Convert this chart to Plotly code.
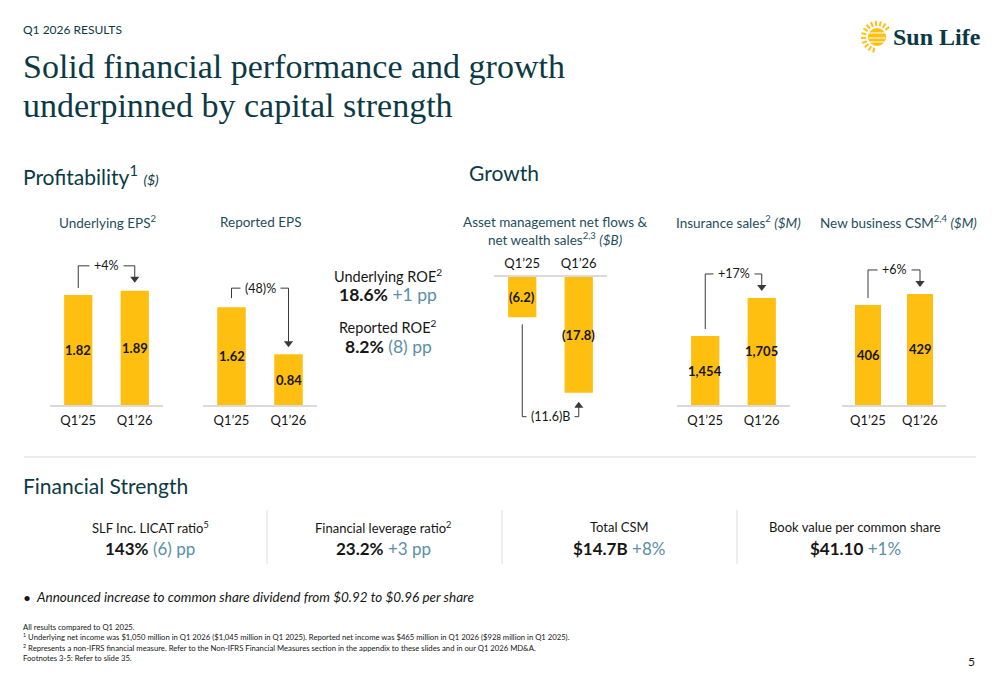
import math
import plotly.graph_objects as go

W, H = 1000, 685

# ---------------- data ----------------
QUARTERS = ["Q1’25", "Q1’26"]
UNDERLYING_EPS = [1.82, 1.89]
REPORTED_EPS = [1.62, 0.84]
ASSET_NET_FLOWS = [-6.2, -17.8]
INSURANCE_SALES = [1454, 1705]
NEW_BUSINESS_CSM = [406, 429]
CHANGE_LABELS = ["+4%", "(48)%", "(11.6)B", "+17%", "+6%"]
CHART_TITLES = [
    "Underlying EPS<sup>2</sup>",
    "Reported EPS",
    "Asset management net flows &<br>net wealth sales<sup>2,3</sup> <i>($B)</i>",
    "Insurance sales<sup>2</sup> <i>($M)</i>",
    "New business CSM<sup>2,4</sup> <i>($M)</i>",
]
ROE_LABELS = ["Underlying ROE<sup>2</sup>", "Reported ROE<sup>2</sup>"]
ROE_VALUES = ["18.6%", "8.2%"]
ROE_CHANGES = ["+1 pp", "(8) pp"]
FS_LABELS = ["SLF Inc. LICAT ratio<sup>5</sup>", "Financial leverage ratio<sup>2</sup>",
             "Total CSM", "Book value per common share"]
FS_VALUES = ["143%", "23.2%", "$14.7B", "$41.10"]
FS_CHANGES = ["(6) pp", "+3 pp", "+8%", "+1%"]
FOOTNOTES = [
    "All results compared to Q1 2025.",
    "<sup>1</sup> Underlying net income was $1,050 million in Q1 2026 ($1,045 million in Q1 2025). Reported net income was $465 million in Q1 2026 ($928 million in Q1 2025).",
    "<sup>2</sup> Represents a non-IFRS financial measure. Refer to the Non-IFRS Financial Measures section in the appendix to these slides and in our Q1 2026 MD&amp;A.",
    "Footnotes 3-5: Refer to slide 35.",
]

# ---------------- style ----------------
SANS = "Lato, Roboto, sans-serif"
SERIF = "Liberation Serif, DejaVu Serif, serif"
DARK = "#0B3A45"
TEAL = "#1D4E5B"
HILITE = "#5A8FA6"
INK = "#161616"
GOLD = "#FFBF10"
AXIS = "#DADADA"
BRACKET = "#3A3A3A"


def X(px):
    return px / W


def Y(py):
    return 1 - py / H


fig = go.Figure()
ann = []
shapes = []


def text(px, py, s, size=14, color=TEAL, xanchor="center", family=SANS, yanchor="middle", align="center"):
    if xanchor == "left":
        px -= 3
    ann.append(dict(x=X(px), y=Y(py), xref="paper", yref="paper", text=s, showarrow=False,
                    xanchor=xanchor, yanchor=yanchor, align=align,
                    font=dict(size=size, color=color, family=family)))


# header
text(24, 29, "Q1 2026 RESULTS", size=12, color=DARK, xanchor="left")
text(24, 66, "Solid financial performance and growth", size=34, color=DARK, xanchor="left", family=SERIF)
text(24, 105, "underpinned by capital strength", size=34, color=DARK, xanchor="left", family=SERIF)

# logo
text(937, 37, "<b>Sun Life</b>", size=24, color=DARK, family=SERIF)
cx, cy, r = 877, 37, 9
shapes.append(dict(type="circle", xref="paper", yref="paper", x0=X(cx - r), x1=X(cx + r),
                   y0=Y(cy + r), y1=Y(cy - r), fillcolor=GOLD, line=dict(width=0)))
for k in range(13):
    a = math.radians(40 + k * 18)
    shapes.append(dict(type="line", xref="paper", yref="paper",
                       x0=X(cx + 11 * math.cos(a)), y0=Y(cy - 11 * math.sin(a)),
                       x1=X(cx + 16 * math.cos(a)), y1=Y(cy - 16 * math.sin(a)),
                       line=dict(color=GOLD, width=2)))
for dy in (-4, 1, 5):
    shapes.append(dict(type="line", xref="paper", yref="paper", x0=X(cx - 8), x1=X(cx + 8),
                       y0=Y(cy + dy), y1=Y(cy + dy), line=dict(color="white", width=1)))

# section titles
text(24, 175, "Profitability<sup>1</sup> <span style='font-size:14px'><i>($)</i></span>", size=21, color=DARK, xanchor="left")
text(470, 172, "Growth", size=21, color=DARK, xanchor="left")
text(24, 485, "Financial Strength", size=21, color=DARK, xanchor="left")

# ---------------- charts ----------------
charts = [
    dict(vals=UNDERLYING_EPS, labels=[f"{v:.2f}" for v in UNDERLYING_EPS], x0=50, x1=163,
         ref_val=0, ref_px=405, ppu=60.4, rmin=0, rmax=2.5, side="bottom", gaps=(7, 25, 8),
         title_xy=(107, 222)),
    dict(vals=REPORTED_EPS, labels=[f"{v:.2f}" for v in REPORTED_EPS], x0=203, x1=317,
         ref_val=0, ref_px=405, ppu=60.4, rmin=0, rmax=2.5, side="bottom", gaps=(9, 19, 7),
         title_xy=(260, 222)),
    dict(vals=ASSET_NET_FLOWS, labels=[f"({abs(v):.1f})" for v in ASSET_NET_FLOWS], x0=494, x1=607,
         ref_val=0, ref_px=277, ppu=6.5, rmin=-23, rmax=0, side="top", gaps=(7, 24, 9),
         title_xy=(555, 231)),
    dict(vals=INSURANCE_SALES, labels=[f"{v:,}" for v in INSURANCE_SALES], x0=677, x1=790,
         ref_val=1000, ref_px=405, ppu=0.1518, rmin=1000, rmax=2000, side="bottom", gaps=(7, 24, 7),
         title_xy=(738, 222)),
    dict(vals=NEW_BUSINESS_CSM, labels=[f"{v:,}" for v in NEW_BUSINESS_CSM], x0=842, x1=946,
         ref_val=200, ref_px=405, ppu=0.485, rmin=200, rmax=500, side="bottom", gaps=(7, 24, 7),
         title_xy=(898, 222)),
]

layout_axes = {}
for i, c in enumerate(charts, start=1):
    sfx = "" if i == 1 else str(i)
    xa, ya = "x" + sfx, "y" + sfx
    top_px = c["ref_px"] - (c["rmax"] - c["ref_val"]) * c["ppu"]
    bot_px = c["ref_px"] + (c["ref_val"] - c["rmin"]) * c["ppu"]
    layout_axes["xaxis" + sfx] = dict(
        domain=[X(c["x0"]), X(c["x1"])], anchor=ya, range=[-0.5, 1.5],
        tickmode="array", tickvals=[0, 1], ticktext=QUARTERS, side=c["side"],
        showline=True, linecolor=AXIS, linewidth=2, showgrid=False, zeroline=False,
        ticks="", ticklabelstandoff=2, tickfont=dict(family=SANS, size=13, color=INK), fixedrange=True)
    layout_axes["yaxis" + sfx] = dict(
        domain=[Y(bot_px), Y(top_px)], anchor=xa, range=[c["rmin"], c["rmax"]],
        visible=False, fixedrange=True)
    fig.add_trace(go.Bar(x=[0, 1], y=c["vals"], width=0.5, marker=dict(color=GOLD, line=dict(width=0)),
                         xaxis=xa, yaxis=ya, hoverinfo="skip", showlegend=False))

    # value labels in the middle of the visible bar
    base = 0 if c["vals"][0] < 0 else c["rmin"]
    for j, (v, lab) in enumerate(zip(c["vals"], c["labels"])):
        ann.append(dict(x=j, y=(base + v) / 2, xref=xa, yref=ya, text=f"<b>{lab}</b>", showarrow=False,
                        font=dict(family=SANS, size=13, color=INK)))

    # bracket with change
    g1, gh, g2 = c["gaps"]
    ppu = c["ppu"]
    v1, v2 = c["vals"]
    sgn = -1 if v1 < 0 else 1
    y_start = v1 + sgn * g1 / ppu
    y_h = (max(v1, v2) if sgn > 0 else min(v1, v2)) + sgn * gh / ppu
    y_tip = v2 + sgn * g2 / ppu
    y_head = y_tip + sgn * 4 / ppu
    shapes.append(dict(type="line", xref=xa, yref=ya, x0=0, x1=0, y0=y_start, y1=y_h,
                       line=dict(color=BRACKET, width=1)))
    shapes.append(dict(type="line", xref=xa, yref=ya, x0=0, x1=1, y0=y_h, y1=y_h,
                       line=dict(color=BRACKET, width=1)))
    shapes.append(dict(type="line", xref=xa, yref=ya, x0=1, x1=1, y0=y_h, y1=y_head,
                       line=dict(color=BRACKET, width=1)))
    fig.add_trace(go.Scatter(x=[1], y=[y_head], mode="markers", xaxis=xa, yaxis=ya, cliponaxis=False,
                             marker=dict(symbol="triangle-down" if sgn > 0 else "triangle-up",
                                         size=8, color=BRACKET, line=dict(width=0)),
                             hoverinfo="skip", showlegend=False))
    ann.append(dict(x=0.5, y=y_h, xref=xa, yref=ya, text=CHANGE_LABELS[i - 1], showarrow=False,
                    bgcolor="white", borderpad=4, font=dict(family=SANS, size=12.5, color=INK)))

    # chart title
    tx, ty = c["title_xy"]
    text(tx, ty, CHART_TITLES[i - 1], size=13.5, color=TEAL)

# ROE block
for k, (py_l, py_v) in enumerate([(275, 294), (326, 346)]):
    text(388, py_l, ROE_LABELS[k], size=14.5, color=INK)
    text(388, py_v, f"<b>{ROE_VALUES[k]}</b> <span style='color:{HILITE}'>{ROE_CHANGES[k]}</span>",
         size=17.5, color=INK)

# divider
shapes.append(dict(type="line", xref="paper", yref="paper", x0=X(24), x1=X(976), y0=Y(457), y1=Y(457),
                   line=dict(color="#E6E6E6", width=1.5)))

# financial strength
for k, cxp in enumerate([150, 383, 619, 855]):
    text(cxp, 527, FS_LABELS[k], size=13, color=INK)
    text(cxp, 548, f"<b>{FS_VALUES[k]}</b> <span style='color:{HILITE}'>{FS_CHANGES[k]}</span>",
         size=17, color=INK)
for sx in [267, 502, 737]:
    shapes.append(dict(type="line", xref="paper", yref="paper", x0=X(sx), x1=X(sx), y0=Y(510), y1=Y(564),
                       line=dict(color="#E3E3E3", width=1.2)))

text(24, 597, "•", size=14, color=INK, xanchor="left")
text(37, 597, "<i>Announced increase to common share dividend from $0.92 to $0.96 per share</i>",
     size=13.5, color=INK, xanchor="left")

for k, line in enumerate(FOOTNOTES):
    text(24, 627 + k * 10.3, line, size=7.7, color=INK, xanchor="left")
text(971, 661, "5", size=12, color=INK)

fig.update_layout(
    width=W, height=H, margin=dict(l=0, r=0, t=0, b=0),
    paper_bgcolor="white", plot_bgcolor="white", showlegend=False,
    annotations=ann, shapes=shapes, bargap=0.5, **layout_axes,
)

fig.write_html("out.html")
